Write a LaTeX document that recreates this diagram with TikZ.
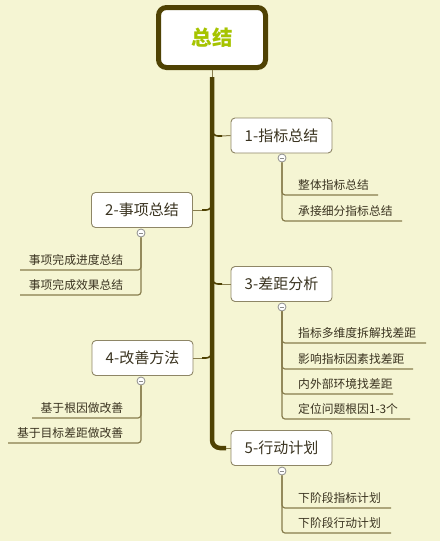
\documentclass[tikz,border=0pt]{standalone}
\usepackage{fontspec}
\setmainfont{Noto Sans CJK SC}
\definecolor{bg}{HTML}{F5F5D3}
\definecolor{trunkc}{HTML}{4F4203}
\definecolor{thinc}{HTML}{877C4C}
\definecolor{boxc}{HTML}{8E8666}
\definecolor{txtc}{HTML}{3A3320}
\definecolor{rootc}{HTML}{A6C400}
\definecolor{circc}{HTML}{8C8C8C}
\tikzset{
  rootbox/.style={draw=trunkc, line width=5pt, fill=white, rounded corners=8pt,
    minimum width=107pt, minimum height=60pt, text=rootc, font=\fontsize{20.5}{24}\selectfont\bfseries},
  topic/.style={draw=boxc, line width=0.9pt, fill=white, rounded corners=4pt,
    minimum width=101pt, minimum height=35pt, inner sep=0pt, text=txtc, font=\fontsize{15}{18}\selectfont},
  trunkline/.style={draw=trunkc, line width=4.5pt, rounded corners=8pt},
  elbow/.style={draw=trunkc, line width=1.6pt, rounded corners=6pt},
  thinline/.style={draw=thinc, line width=1pt},
  subline/.style={draw=thinc, line width=1.2pt, rounded corners=3pt},
  fold/.style={circle, draw=circc, fill=white, line width=0.8pt, minimum size=8pt, inner sep=0pt},
  subR/.style={anchor=base west, inner sep=0pt, text=txtc, font=\fontsize{11.8}{14}\selectfont},
  subL/.style={anchor=base east, inner sep=0pt, text=txtc, font=\fontsize{11.8}{14}\selectfont},
}
\begin{document}
\begin{tikzpicture}[x=1pt,y=-1pt]
\fill[bg] (0,0) rectangle (440,541);
\useasboundingbox (0,0) rectangle (440,541);

% root
\node[rootbox] (root) at (212,37.5) {总结};

% topics
\node[topic] (b1) at (281.5,135.5) {1-指标总结};
\node[topic] (b2) at (142,210) {2-事项总结};
\node[topic] (b3) at (281.5,284) {3-差距分析};
\node[topic] (b4) at (142.5,358) {4-改善方法};
\node[topic] (b5) at (281.5,448) {5-行动计划};

% trunk
\coordinate (t0) at (212,77);
\coordinate (t5) at (226,448);
\draw[thinline] (root.south) -- (t0);
\draw[trunkline] (t0) |- (t5);
\draw[thinline] (t5) -- (b5.west);

\coordinate (e1a) at (212,127);
\coordinate (e1) at (222,136);
\draw[elbow] (e1a) |- (e1);
\draw[thinline] (e1) -- (b1.west);

\coordinate (e2a) at (212,201);
\coordinate (e2) at (202,210);
\draw[elbow] (e2a) |- (e2);
\draw[thinline] (e2) -- (b2.east);

\coordinate (e3a) at (212,275);
\coordinate (e3) at (222,284);
\draw[elbow] (e3a) |- (e3);
\draw[thinline] (e3) -- (b3.west);

\coordinate (e4a) at (212,349);
\coordinate (e4) at (202,358);
\draw[elbow] (e4a) |- (e4);
\draw[thinline] (e4) -- (b4.east);

% fold markers
\foreach \n/\x/\y in {f1/282/158, f2/141/233, f3/282/307, f4/141/381, f5/282/471}{
  \node[fold] (\n) at (\x,\y) {};
  \draw[circc, line width=0.9pt] ([xshift=-2.2pt]\n.center) -- ([xshift=2.2pt]\n.center);
}

% branch 1 children
\node[subR] (s11) at (298,189.5) {整体指标总结};
\node[subR] (s12) at (298,215.5) {承接细分指标总结};
\coordinate (u11) at (378,195);
\coordinate (u12) at (402,221);
\draw[subline] (f1.south) |- (u11);
\draw[subline] (f1.south) |- (u12);

% branch 2 children
\node[subL] (s21) at (123.5,264.5) {事项完成进度总结};
\node[subL] (s22) at (123.5,289.5) {事项完成效果总结};
\coordinate (u21) at (20,270);
\coordinate (u22) at (20,295);
\draw[subline] (f2.south) |- (u21);
\draw[subline] (f2.south) |- (u22);

% branch 3 children
\node[subR] (s31) at (298,337.5) {指标多维度拆解找差距};
\node[subR] (s32) at (298,363.5) {影响指标因素找差距};
\node[subR] (s33) at (298,388.5) {内外部环境找差距};
\node[subR] (s34) at (298,413.5) {定位问题根因1-3个};
\coordinate (u31) at (426,343);
\coordinate (u32) at (413,369);
\coordinate (u33) at (393,394);
\coordinate (u34) at (410,419);
\draw[subline] (f3.south) |- (u31);
\draw[subline] (f3.south) |- (u32);
\draw[subline] (f3.south) |- (u33);
\draw[subline] (f3.south) |- (u34);

% branch 4 children
\node[subL] (s41) at (123.5,412.5) {基于根因做改善};
\node[subL] (s42) at (123.5,437.5) {基于目标差距做改善};
\coordinate (u41) at (32,418);
\coordinate (u42) at (8,443);
\draw[subline] (f4.south) |- (u41);
\draw[subline] (f4.south) |- (u42);

% branch 5 children
\node[subR] (s51) at (298,502.5) {下阶段指标计划};
\node[subR] (s52) at (298,527.5) {下阶段行动计划};
\coordinate (u51) at (391,508);
\coordinate (u52) at (391,533);
\draw[subline] (f5.south) |- (u51);
\draw[subline] (f5.south) |- (u52);
\end{tikzpicture}
\end{document}
